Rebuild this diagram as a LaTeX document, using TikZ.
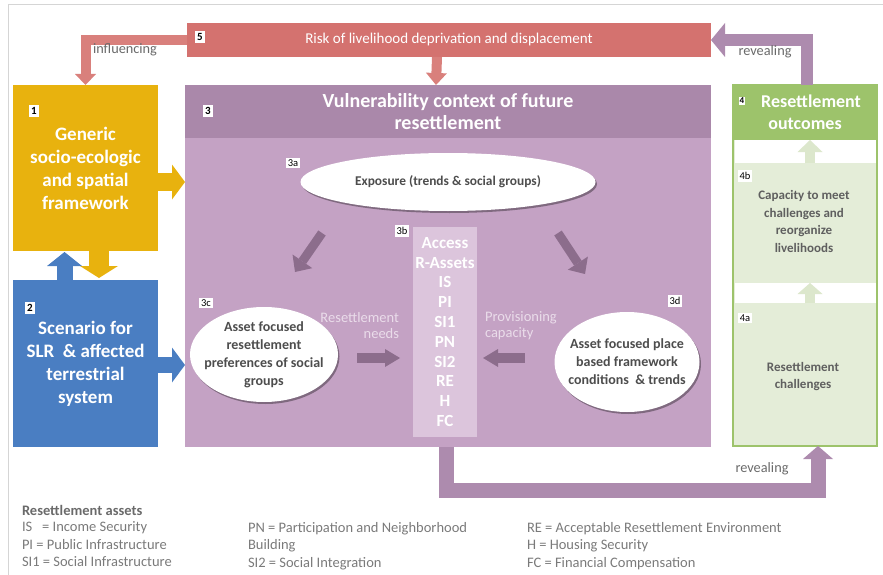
\documentclass[tikz,border=0pt]{standalone}
\usepackage{fontspec}
\setmainfont{Carlito}
\usetikzlibrary{arrows.meta,shapes.geometric,shadows}

\definecolor{riskred}{HTML}{D4726F}
\definecolor{riskarrow}{HTML}{D9807C}
\definecolor{genyellow}{HTML}{E8B20E}
\definecolor{scenblue}{HTML}{4A7EC2}
\definecolor{vulnhead}{HTML}{AA88AA}
\definecolor{vulnbody}{HTML}{C4A2C4}
\definecolor{accesscol}{HTML}{DCC5DC}
\definecolor{innerarrow}{HTML}{8C6D8C}
\definecolor{revealarrow}{HTML}{AD8BAE}
\definecolor{outhead}{HTML}{9DC36B}
\definecolor{outbody}{HTML}{E4EDD8}
\definecolor{outarrow}{HTML}{DCE7CC}
\definecolor{darktext}{HTML}{4D4D4D}
\definecolor{softtext}{HTML}{6A6A6A}
\definecolor{legendtext}{HTML}{7A7A7A}
\definecolor{needstext}{HTML}{EADCEA}
\definecolor{frameline}{HTML}{D5D5D5}

\begin{document}
\begin{tikzpicture}[x=1pt,y=-1pt,
		every node/.style = {inner sep=0pt,outer sep=0pt},
		numlabel/.style = {fill=white,text=black,inner sep=2.4pt,font=\fontsize{11}{11}\selectfont\bfseries},
		smalllabel/.style = {numlabel,inner sep=2pt,font=\fontsize{10.5}{10.5}\selectfont},
		bigtitle/.style = {text=white,align=center,font=\fontsize{19}{23}\selectfont\bfseries},
		bubble/.style = {ellipse,fill=white,drop shadow={shadow xshift=1.5pt,shadow yshift=-2pt,fill=black,opacity=.35}},
		bubbletext/.style = {text=darktext,align=center,font=\fontsize{14}{18}\selectfont\bfseries},
		sectiontext/.style = {text=darktext!90,align=center,font=\fontsize{13}{17.7}\selectfont\bfseries},
		flowtext/.style = {text=needstext,font=\fontsize{14.5}{16}\selectfont},
		sidetext/.style = {text=softtext,font=\fontsize{14.3}{15}\selectfont},
		legend/.style = {anchor=west,text=legendtext,align=left,font=\fontsize{14.5}{17.5}\selectfont},
		blockarrow/.style n args = {4}{draw=#1,line width=#2,-{Triangle[width=#3,length=#4,line width=0pt]}}
	]

	\useasboundingbox (0,0) rectangle (883,575);
	\draw[frameline,line width=1pt] (8,575) -- (8,5) -- (883,5);

	% boxes
	\node[fill=riskred,minimum width=524pt,minimum height=34pt,text=white,font=\fontsize{15}{15}\selectfont] (risk) at (449,40) {Risk of livelihood deprivation and displacement};
	\node[numlabel] (n5) at (200,37) {5};

	\node[fill=genyellow,minimum width=145pt,minimum height=166pt,bigtitle] (generic) at (85.5,168) {Generic\\socio-ecologic\\and spatial\\framework};
	\node[numlabel] (n1) at (34,111) {1};

	\node[fill=scenblue,minimum width=145pt,minimum height=167pt,bigtitle] (scenario) at (85.5,363.5) {Scenario for\\SLR \ \& affected\\terrestrial\\system};
	\node[numlabel] (n2) at (30,308) {2};

	\node[fill=vulnbody,minimum width=526pt,minimum height=362pt] (vuln) at (448,266) {};
	\node[fill=vulnhead,minimum width=526pt,minimum height=53pt,bigtitle,font=\fontsize{20}{22}\selectfont\bfseries] (vulnhead) at (448,111.5) {Vulnerability context of future\\resettlement};
	\node[numlabel] (n3) at (208,111) {3};

	\node[draw=outhead,line width=1.5pt,fill=outbody,minimum width=144pt,minimum height=361pt] (outcome) at (805,265.5) {};
	\node[fill=outhead,minimum width=145.5pt,minimum height=55pt,bigtitle,font=\fontsize{18}{22}\selectfont\bfseries] (outhead) at (805,112.5) {\phantom{4}\,Resettlement\\outcomes};
	\node[numlabel,font=\fontsize{9}{9}\selectfont\bfseries,inner sep=1.2pt] (n4) at (742,101) {4};
	\node[fill=white,minimum width=141pt,minimum height=23pt] (band1) at (805,151.5) {};
	\node[fill=white,minimum width=141pt,minimum height=20pt] (band2) at (805,293) {};

	\node[sectiontext] (capacity) at (804,221.5) {Capacity to meet\\challenges and\\reorganize\\livelihoods};
	\node[smalllabel] (n4b) at (745,176) {4b};
	\node[sectiontext] (challenges) at (803,376.5) {Resettlement\\challenges};
	\node[smalllabel] (n4a) at (745,318) {4a};

	% inside 3
	\node[bubble,minimum width=295pt,minimum height=58pt] (exposure) at (448,182) {};
	\node[bubbletext,font=\fontsize{13.4}{18}\selectfont\bfseries] (exposuretext) at (exposure) {Exposure (trends \& social groups)};
	\node[smalllabel] (n3a) at (293,163) {3a};

	\node[fill=accesscol,minimum width=64pt,minimum height=210pt,text=white,align=center,font=\fontsize{17}{19.8}\selectfont\bfseries] (access) at (445,332) {Access\\R-Assets\\IS\\PI\\SI1\\PN\\SI2\\RE\\H\\FC};
	\node[smalllabel] (n3b) at (402,231) {3b};

	\node[bubble,minimum width=148pt,minimum height=95pt] (prefs) at (264,354.5) {};
	\node[bubbletext] (prefstext) at (prefs) {Asset focused\\resettlement\\preferences of social\\groups};
	\node[smalllabel] (n3c) at (206,303) {3c};

	\node[bubble,minimum width=145pt,minimum height=100pt] (place) at (627,362) {};
	\node[bubbletext] (placetext) at (place) {Asset focused place\\based framework\\conditions \ \& trends};
	\node[smalllabel] (n3d) at (675,301) {3d};

	\node[flowtext,align=right,anchor=east] (needs) at (399,325.5) {Resettlement\\needs};
	\node[flowtext,align=left,anchor=west] (provision) at (485,326) {Provisioning\\capacity};

	\coordinate (diagL1) at (322,233);
	\coordinate (diagL2) at (295,272);
	\coordinate (diagR1) at (558,233);
	\coordinate (diagR2) at (585,274);

	% arrows
	\draw[blockarrow={riskarrow}{10pt}{21pt}{11pt}] (risk.west) -| (generic.north);
	\draw[blockarrow={riskarrow}{10pt}{21pt}{12pt}] ([xshift=-12pt]risk.south) -- ([xshift=-12pt]vulnhead.north);
	\draw[blockarrow={genyellow}{18pt}{35pt}{13pt}] ([yshift=-14pt]generic.east) -- ([yshift=-14pt]generic.east -| vuln.west);
	\draw[blockarrow={genyellow}{20pt}{38pt}{12pt}] ([xshift=13.5pt]generic.south) -- ([xshift=13.5pt,yshift=2pt]scenario.north);
	\draw[blockarrow={scenblue}{16pt}{35pt}{14pt}] ([xshift=-21pt]scenario.north) -- ([xshift=-21pt,yshift=-1pt]generic.south);
	\draw[blockarrow={scenblue}{16pt}{35pt}{13pt}] ([yshift=-1.5pt]scenario.east) -- ([yshift=-1.5pt]scenario.east -| vuln.west);
	\draw[blockarrow={revealarrow}{12pt}{34pt}{14pt}] ([xshift=2pt]outhead.north) |- (risk.east);
	\draw[blockarrow={revealarrow}{15pt}{30pt}{13pt}] ([xshift=-2pt]vuln.south) -- ++(0,43) -| ([xshift=13pt]outcome.south);
	\node[sidetext] (influencing) at (125,50) {influencing};
	\node[sidetext] (revealtop) at (765,52) {revealing};
	\node[sidetext] (revealbottom) at (762,469) {revealing};

	\draw[blockarrow={outarrow}{10pt}{25pt}{12pt}] ([xshift=5pt]band1.south) -- ([xshift=5pt]band1.north);
	\draw[blockarrow={outarrow}{10pt}{25pt}{11pt}] ([xshift=5pt]band2.south) -- ([xshift=5pt]band2.north);

	\draw[blockarrow={innerarrow}{9pt}{24pt}{13pt}] (diagL1) -- (diagL2);
	\draw[blockarrow={innerarrow}{9pt}{24pt}{13pt}] (diagR1) -- (diagR2);
	\draw[blockarrow={innerarrow}{10pt}{18pt}{15pt},shorten <=19pt,shorten >=13pt] ([yshift=-3.5pt]prefs.east) -- ([yshift=-3.5pt]prefs.east -| access.west);
	\draw[blockarrow={innerarrow}{10pt}{18pt}{15pt},shorten <=30pt,shorten >=6pt] ([yshift=4pt]place.west) -- ([yshift=4pt]place.west -| access.east);

	% legend
	\node[legend,font=\fontsize{14.5}{17.5}\selectfont\bfseries,text=softtext] (assets) at (22,510) {Resettlement assets};
	\node[legend,anchor=north west] (legendA) at (22,522) {IS\ \ \ = Income Security\\PI = Public Infrastructure\\SI1 = Social Infrastructure};
	\node[legend,anchor=north west] (legendB) at (248,522) {PN = Participation and Neighborhood\\Building\\SI2 = Social Integration};
	\node[legend,anchor=north west] (legendC) at (527,522) {RE = Acceptable Resettlement Environment\\H = Housing Security\\FC = Financial Compensation};

\end{tikzpicture}
\end{document}
